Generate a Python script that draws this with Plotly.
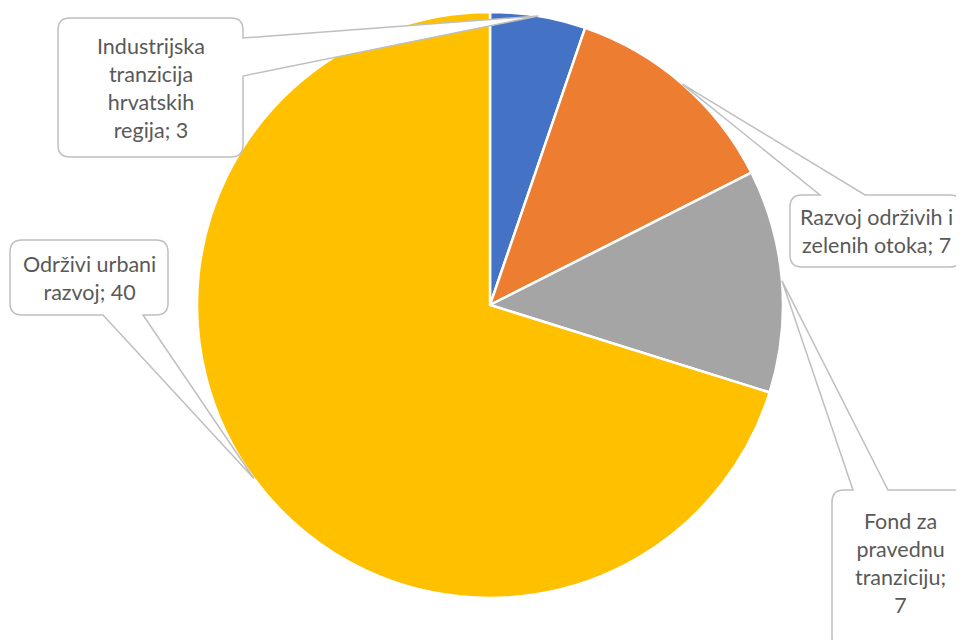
import math
import plotly.graph_objects as go

labels = ["Industrijska tranzicija hrvatskih regija", "Razvoj održivih i zelenih otoka",
          "Fond za pravednu tranziciju", "Održivi urbani razvoj"]
values = [3, 7, 7, 40]
colors = ["#4472C4", "#ED7D31", "#A5A5A5", "#FFC000"]
label_texts = ["Industrijska<br>tranzicija<br>hrvatskih<br>regija; 3",
               "Razvoj održivih i<br>zelenih otoka; 7",
               "Fond za<br>pravednu<br>tranziciju;<br>7",
               "Održivi urbani<br>razvoj; 40"]

W, H = 964, 640
OFF = 8  # page body margin
CX, CY, R = 490 - OFF, 305 - OFF, 293

fig = go.Figure(go.Pie(
    labels=labels, values=values, sort=False, direction="clockwise", rotation=0,
    marker=dict(colors=colors, line=dict(color="white", width=2.5)),
    textinfo="none", hoverinfo="label+value", showlegend=False,
    domain=dict(x=[(CX - R) / W, (CX + R) / W], y=[1 - (CY + R) / H, 1 - (CY - R) / H]),
))

def px(x, y):
    return x / W, 1 - y / H

# callout boxes in reference pixels: (x0, y0, x1, y1), side, base points
boxes = [
    ((58, 18, 243, 157), "right", (38, 76)),
    ((790, 195, 962, 267), "top", (820, 865)),
    ((832, 490, 968, 650), "top", (853, 888)),
    ((10, 240, 168, 315), "bottom", (103, 143)),
]

total = sum(values)
cum = 0
tips = []
for v in values:
    mid = (cum + v / 2) / total * 2 * math.pi
    cum += v
    tips.append((CX + R * math.sin(mid), CY - R * math.cos(mid)))

def callout_path(box, side, base, tip):
    x0, y0, x1, y1 = [c - OFF for c in box]
    base = [b - OFF for b in base]
    r = 12
    def P(x, y):
        a, b = px(x, y)
        return f"{a:.5f},{b:.5f}"
    d = f"M{P(x0 + r, y0)} "
    if side == "top":
        d += f"L{P(base[0], y0)} L{P(tip[0], tip[1])} L{P(base[1], y0)} "
    d += f"L{P(x1 - r, y0)} Q{P(x1, y0)} {P(x1, y0 + r)} "
    if side == "right":
        d += f"L{P(x1, base[0])} L{P(tip[0], tip[1])} L{P(x1, base[1])} "
    d += f"L{P(x1, y1 - r)} Q{P(x1, y1)} {P(x1 - r, y1)} "
    if side == "bottom":
        d += f"L{P(base[1], y1)} L{P(tip[0], tip[1])} L{P(base[0], y1)} "
    d += f"L{P(x0 + r, y1)} Q{P(x0, y1)} {P(x0, y1 - r)} "
    d += f"L{P(x0, y0 + r)} Q{P(x0, y0)} {P(x0 + r, y0)} Z"
    return d

shapes = []
annotations = []
text_centers = [(151, 88), (876, 231), (900, 563), (89, 278)]
for i, (box, side, base) in enumerate(boxes):
    shapes.append(dict(type="path", xref="paper", yref="paper",
                       path=callout_path(box, side, base, tips[i]),
                       fillcolor="white", line=dict(color="#BFBFBF", width=1.5), layer="above"))
    tx, ty = px(text_centers[i][0] - OFF, text_centers[i][1] - OFF)
    annotations.append(dict(x=tx, y=ty, xref="paper", yref="paper", text=label_texts[i],
                            showarrow=False, xanchor="center", yanchor="middle",
                            font=dict(family="Lato, Open Sans, sans-serif", size=21.5, color="#595959")))

fig.update_layout(width=W, height=H, margin=dict(l=0, r=0, t=0, b=0),
                  paper_bgcolor="white", plot_bgcolor="white",
                  shapes=shapes, annotations=annotations)
fig.write_html("out.html")
